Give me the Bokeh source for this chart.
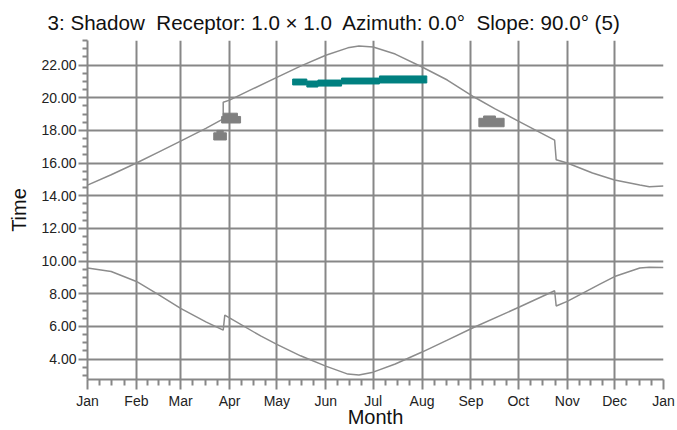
from bokeh.plotting import figure
from bokeh.models import FixedTicker, PrintfTickFormatter, Range1d
from bokeh.embed import file_html
from bokeh.resources import INLINE

# ---- data ----
month_days = [0, 31, 59, 90, 120, 151, 181, 212, 243, 273, 304, 334, 365]
month_labels = ["Jan", "Feb", "Mar", "Apr", "May", "Jun", "Jul",
                "Aug", "Sep", "Oct", "Nov", "Dec", "Jan"]
hour_ticks = [4, 6, 8, 10, 12, 14, 16, 18, 20, 22]
hour_minor = [3.0, 3.5, 4.5, 5.0, 5.5, 6.5, 7.0, 7.5, 8.5, 9.0, 9.5, 10.5, 11.0,
              11.5, 12.5, 13.0, 13.5, 14.5, 15.0, 15.5, 16.5, 17.0, 17.5, 18.5,
              19.0, 19.5, 20.5, 21.0, 21.5, 22.5, 23.0, 23.5]

sunset_day = [0, 15, 31, 45, 59, 75, 86, 86, 90, 105, 120, 135, 151, 165, 172,
              181, 195, 212, 228, 245, 258, 273, 296, 297, 304, 320, 334, 350,
              356, 365]
sunset_time = [14.65, 15.28, 16.0, 16.67, 17.34, 18.12, 18.7, 19.72, 19.85, 20.55,
               21.24, 21.93, 22.6, 23.05, 23.16, 23.1, 22.67, 21.88, 21.08,
               20.04, 19.33, 18.57, 17.4, 16.2, 16.0, 15.39, 14.96, 14.65,
               14.55, 14.6]

sunrise_day = [0, 15, 31, 45, 59, 75, 86, 87, 90, 110, 120, 135, 151, 165, 172,
               181, 195, 212, 228, 245, 274, 296, 297, 304, 325, 334, 350, 356,
               365]
sunrise_time = [9.57, 9.36, 8.75, 7.95, 7.1, 6.28, 5.77, 6.69, 6.52, 5.4, 4.9,
                4.2, 3.57, 3.08, 3.02, 3.2, 3.7, 4.43, 5.16, 5.95, 7.2, 8.18,
                7.25, 7.53, 8.6, 9.05, 9.57, 9.62, 9.6]

teal_left = [130, 139, 146, 161, 185]
teal_right = [139, 146, 161, 185, 215]
teal_bottom = [20.78, 20.65, 20.71, 20.84, 20.90]
teal_top = [21.14, 21.02, 21.08, 21.20, 21.33]

gray_left = [86, 85, 80, 82, 248, 251]
gray_right = [95, 97, 88, 86, 264, 258.5]
gray_bottom = [18.85, 18.45, 17.41, 17.85, 18.22, 18.74]
gray_top = [19.05, 18.85, 17.85, 18.0, 18.74, 18.88]

title_text = ("3: Shadow\u00a0 Receptor: 1.0 \u00d7 1.0\u00a0 Azimuth: 0.0\u00b0"
              "\u00a0 Slope: 90.0\u00b0 (5)")

# ---- derived tick positions ----
x_minor = []
for a, b in zip(month_days[:-1], month_days[1:]):
    for k in (1, 2, 3):
        x_minor.append(a + (b - a) * k / 4.0)

FONT = "Liberation Sans"
GRAY = "#878787"

p = figure(width=676, height=430,
           x_range=Range1d(0, 365), y_range=Range1d(2.75, 23.5),
           output_backend="svg", toolbar_location=None,
           min_border_left=87, min_border_right=13,
           min_border_top=40, min_border_bottom=51,
           title=title_text)

p.outline_line_color = None
p.background_fill_color = "white"

p.title.text_font = FONT
p.title.text_font_size = "20.6px"
p.title.text_font_style = "normal"
p.title.text_color = "#111111"
p.title.align = "left"
p.title.offset = -40
p.title.standoff = 13

xt = FixedTicker(ticks=month_days, minor_ticks=x_minor)
yt = FixedTicker(ticks=hour_ticks, minor_ticks=hour_minor)
p.xaxis.ticker = xt
p.yaxis.ticker = yt
p.xgrid.ticker = xt
p.ygrid.ticker = yt
p.xaxis.major_label_overrides = {d: l for d, l in zip(month_days, month_labels)}
p.yaxis.formatter = PrintfTickFormatter(format="%.2f")

for g in (p.xgrid, p.ygrid):
    g.grid_line_color = GRAY
    g.grid_line_width = 2

for ax in (p.xaxis, p.yaxis):
    ax.axis_line_color = GRAY
    ax.axis_line_width = 2
    ax.major_tick_line_color = GRAY
    ax.major_tick_line_width = 2
    ax.minor_tick_line_color = GRAY
    ax.minor_tick_line_width = 2
    ax.major_tick_in = 0
    ax.minor_tick_in = 0
    ax.major_label_text_font = FONT
    ax.major_label_text_font_size = "14px"
    ax.major_label_text_color = "#222222"
    ax.axis_label_text_font = FONT
    ax.axis_label_text_font_size = "20px"
    ax.axis_label_text_font_style = "normal"
    ax.axis_label_text_color = "#111111"

p.yaxis.major_tick_out = 9
p.yaxis.minor_tick_out = 5
p.yaxis.major_label_standoff = 2
p.yaxis.axis_label = "Time"
p.yaxis.axis_label_standoff = 8

p.xaxis.major_tick_out = 10
p.xaxis.minor_tick_out = 6
p.xaxis.major_label_standoff = 3
p.xaxis.axis_label = "Month"
p.xaxis.axis_label_standoff = -6

p.line(sunset_day, sunset_time, line_color="#8c8c8c", line_width=1.5)
p.line(sunrise_day, sunrise_time, line_color="#8c8c8c", line_width=1.5)

p.quad(left=teal_left, right=teal_right, bottom=teal_bottom, top=teal_top,
       fill_color="#008080", line_color="#008080", line_width=1,
       line_join="round")
p.quad(left=gray_left, right=gray_right, bottom=gray_bottom, top=gray_top,
       fill_color="#808080", line_color="#808080", line_width=1)

open("out.html", "w").write(file_html(p, INLINE))
